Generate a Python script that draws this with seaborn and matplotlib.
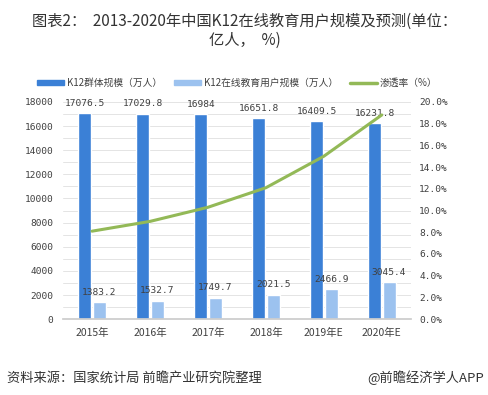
import numpy as np
import pandas as pd
import seaborn as sns
import matplotlib.pyplot as plt
from matplotlib.lines import Line2D
from matplotlib.patches import Patch

years = ["2015年", "2016年", "2017年", "2018年", "2019年E", "2020年E"]
k12_total = [17076.5, 17029.8, 16984, 16651.8, 16409.5, 16231.8]
k12_online = [1383.2, 1532.7, 1749.7, 2021.5, 2466.9, 3045.4]
penetration = [8.1, 9.0, 10.3, 12.1, 15.0, 18.8]
total_labels = ["17076.5", "17029.8", "16984", "16651.8", "16409.5", "16231.8"]
online_labels = ["1383.2", "1532.7", "1749.7", "2021.5", "2466.9", "3045.4"]

s_total = "K12群体规模（万人）"
s_online = "K12在线教育用户规模（万人）"
s_rate = "渗透率（%）"

sns.set_theme(style="white")
plt.rcParams["font.family"] = ["Noto Sans CJK SC", "DejaVu Sans"]
mono = ["DejaVu Sans Mono", "Noto Sans CJK SC"]

c_dark = "#3b80d6"
c_light = "#9cc2ef"
c_green = "#93b957"
txt = "#404040"

df = pd.DataFrame({
    "year": years * 2,
    "value": k12_total + k12_online,
    "series": [s_total] * 6 + [s_online] * 6,
})

fig = plt.figure(figsize=(4.89, 3.95), dpi=100)
ax = fig.add_axes([0.129, 0.192, 0.711, 0.550])

sns.barplot(data=df, x="year", y="value", hue="series", ax=ax,
            palette=[c_dark, c_light], width=0.5, gap=0.1,
            legend=False, saturation=1)

ax.set_ylim(0, 18000)
ax.set_xlim(-0.5, 5.5)
ax.set_yticks(np.arange(0, 18001, 2000))
ax.set_yticks(np.arange(0, 18001, 1000), minor=True)
ax.grid(axis="y", which="both", color="#e4e4e4", linewidth=0.7)
ax.set_axisbelow(True)
ax.set_xlabel("")
ax.set_ylabel("")
ax.tick_params(axis="y", which="both", labelsize=6.8, labelcolor=txt, length=0, pad=7)
ax.tick_params(axis="x", labelsize=7.5, labelcolor=txt, length=0, pad=6)
for lab in ax.get_yticklabels():
    lab.set_family(mono)
for sp in ["top", "right", "left"]:
    ax.spines[sp].set_visible(False)
ax.spines["bottom"].set_color("#cccccc")

# value labels
bars = ax.patches
for i, p in enumerate(bars[:6]):
    ax.annotate(total_labels[i], (p.get_x() + p.get_width() / 2, p.get_height()),
                xytext=(0, 4), textcoords="offset points", ha="center",
                va="bottom", fontsize=6.8, color=txt, family=mono)
for i, p in enumerate(bars[6:12]):
    ax.annotate(online_labels[i], (p.get_x() + p.get_width() / 2, p.get_height()),
                xytext=(0, 4), textcoords="offset points", ha="center",
                va="bottom", fontsize=6.8, color=txt, family=mono)

ax2 = ax.twinx()
sns.lineplot(x=np.arange(6), y=penetration, ax=ax2, color=c_green,
             linewidth=2.2, legend=False)
ax2.set_ylim(0, 20)
ax2.set_yticks(np.arange(0, 20.1, 2))
ax2.set_yticklabels([f"{v:.1f}%" for v in np.arange(0, 20.1, 2)])
ax2.tick_params(axis="y", labelsize=6.8, labelcolor=txt, length=0, pad=6)
for lab in ax2.get_yticklabels():
    lab.set_family(mono)
ax2.grid(False)
for sp in ["top", "right", "left", "bottom"]:
    ax2.spines[sp].set_visible(False)

handles = [Patch(color=c_dark), Patch(color=c_light),
           Line2D([0], [0], color=c_green, linewidth=2.5)]
fig.legend(handles, [s_total, s_online, s_rate], loc="center",
           bbox_to_anchor=(0.485, 0.79), ncol=3, frameon=False, fontsize=7,
           handlelength=2.8, handleheight=0.5, columnspacing=1.2,
           handletextpad=0.3, labelcolor=txt)

fig.text(0.5, 0.945, "图表2：  2013-2020年中国K12在线教育用户规模及预测(单位：",
         ha="center", va="center", fontsize=11, color="#333333")
fig.text(0.5, 0.898, "亿人，  %)", ha="center", va="center", fontsize=11,
         color="#333333")
fig.text(0.015, 0.043, "资料来源：国家统计局 前瞻产业研究院整理", ha="left",
         va="center", fontsize=9.5, color="#333333")
fig.text(0.99, 0.043, "@前瞻经济学人APP", ha="right", va="center",
         fontsize=9.5, color="#333333")

fig.savefig("out.png", dpi=100)
